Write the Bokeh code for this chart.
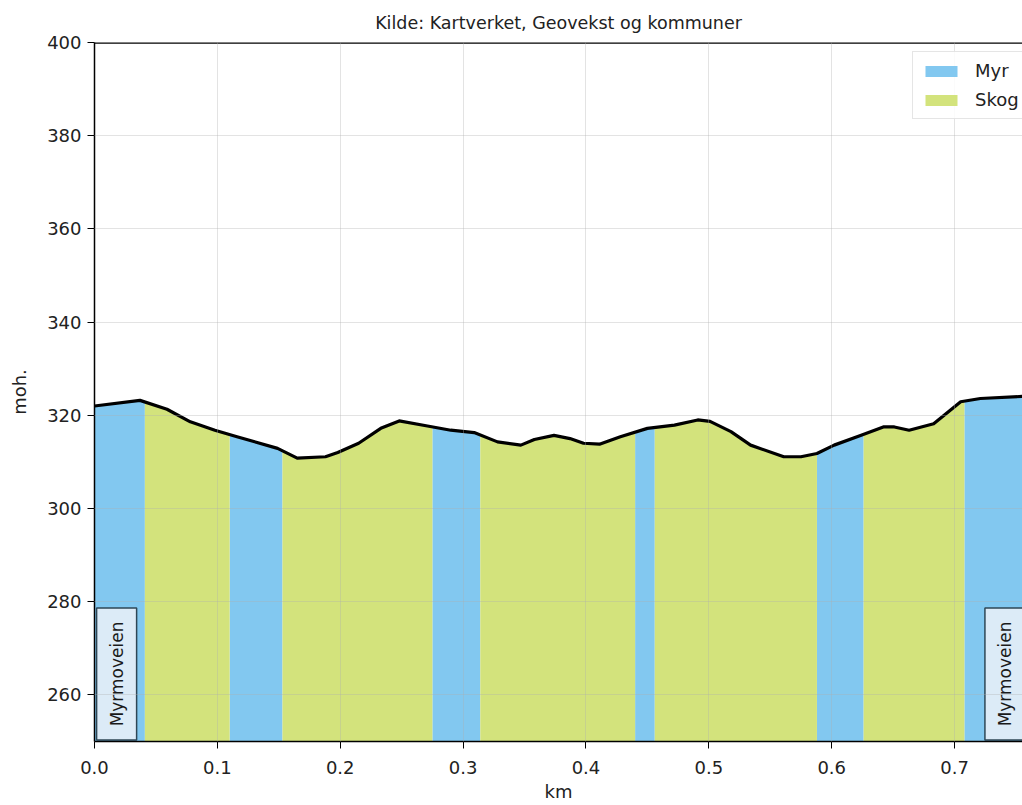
import numpy as np
from bokeh.plotting import figure
from bokeh.models import FixedTicker, PrintfTickFormatter, Range1d, Span, Legend, LegendItem
from bokeh.embed import file_html
from bokeh.resources import INLINE
from bokeh.core.properties import value

# ---- data ----
dist_km = [0.000, 0.037, 0.059, 0.078, 0.098, 0.116, 0.149, 0.165, 0.188, 0.198,
           0.215, 0.233, 0.248, 0.271, 0.290, 0.309, 0.328, 0.347, 0.358, 0.374,
           0.387, 0.398, 0.411, 0.428, 0.450, 0.472, 0.491, 0.501, 0.518, 0.534,
           0.561, 0.575, 0.588, 0.602, 0.624, 0.642, 0.651, 0.663, 0.683, 0.705,
           0.721, 0.759]
elev_m = [322.0, 323.2, 321.3, 318.6, 316.8, 315.4, 312.9, 310.8, 311.1, 312.0,
          314.0, 317.2, 318.8, 317.7, 316.8, 316.3, 314.3, 313.6, 314.8, 315.7,
          315.0, 314.0, 313.8, 315.4, 317.2, 317.9, 319.0, 318.7, 316.5, 313.6,
          311.1, 311.1, 311.8, 313.6, 315.7, 317.5, 317.5, 316.8, 318.2, 322.9,
          323.6, 324.1]

cover_classes = ["Myr", "Skog"]
myr_from_km = [0.000, 0.110, 0.275, 0.440, 0.588, 0.708]
myr_to_km = [0.041, 0.153, 0.314, 0.456, 0.626, 0.759]
skog_from_km = [0.041, 0.153, 0.314, 0.456, 0.626]
skog_to_km = [0.110, 0.275, 0.440, 0.588, 0.708]

place_names = ["Myrmoveien", "Myrmoveien"]
x_ticks = [0.0, 0.1, 0.2, 0.3, 0.4, 0.5, 0.6, 0.7]
y_ticks = [260, 280, 300, 320, 340, 360, 380, 400]

# ---- styles ----
cover_colors = {"Myr": "#82c8f0", "Skog": "#d3e37c"}
FONT = "DejaVu Sans"
Y0, Y1 = 250, 400
X0, X1 = 0.0, 0.7553

p = figure(width=1022, height=805, x_range=Range1d(X0, X1), y_range=Range1d(Y0, Y1),
           output_backend="svg", toolbar_location=None,
           min_border_left=94, min_border_right=0, min_border_top=42, min_border_bottom=64,
           title="Kilde: Kartverket, Geovekst og kommuner")
p.title.align = "center"
p.title.text_font = FONT
p.title.text_font_size = "17.5px"
p.title.text_font_style = "normal"
p.title.text_color = "#222222"
p.title.standoff = 19
p.outline_line_color = None
p.background_fill_color = "white"
p.border_fill_color = "white"


def polygons(starts, ends):
    xs, ys = [], []
    for a, b in zip(starts, ends):
        px = [a] + [d for d in dist_km if a < d < b] + [b]
        py = list(np.interp(px, dist_km, elev_m))
        xs.append(px + px[::-1])
        ys.append(py + [Y0] * len(px))
    return xs, ys


items = []
for name, starts, ends in (("Myr", myr_from_km, myr_to_km), ("Skog", skog_from_km, skog_to_km)):
    xs, ys = polygons(starts, ends)
    r = p.patches(xs, ys, fill_color=cover_colors[name], line_color=None)
    items.append(LegendItem(label=name, renderers=[r]))

p.line(dist_km, elev_m, line_color="black", line_width=3.2, line_join="round", line_cap="round")

# place labels at route start / end
off = 0.018
lx = [dist_km[0] + off, dist_km[-1] - off]
ly = [264.5, 264.5]
p.rect(lx, ly, width=40, height=132, width_units="screen", height_units="screen",
       fill_color="#dcebf7", line_color="#2e4756", line_width=1.5)
p.text(lx, ly, text=place_names, angle=np.pi / 2, text_align="center", text_baseline="middle",
       text_font=value(FONT), text_font_size="17px", text_color="#1a1a1a")

legend = Legend(items=items, location=(818, 622), margin=0)
legend.label_text_font = FONT
legend.label_text_font_size = "18px"
legend.label_text_color = "#222222"
legend.glyph_width = 40
legend.glyph_height = 14
legend.label_standoff = 14
legend.padding = 8
legend.spacing = 8
legend.border_line_color = "#cccccc"
legend.background_fill_alpha = 0.85
p.add_layout(legend)

# axes
for ax in (p.xaxis, p.yaxis):
    ax.major_label_text_font = FONT
    ax.major_label_text_font_size = "18px"
    ax.major_label_text_color = "#222222"
    ax.axis_label_text_font = FONT
    ax.axis_label_text_font_size = "18px"
    ax.axis_label_text_font_style = "normal"
    ax.axis_label_text_color = "#222222"
    ax.axis_line_color = "black"
    ax.axis_line_width = 1.5
    ax.major_tick_line_color = "black"
    ax.major_tick_out = 7
    ax.major_tick_in = 0
    ax.minor_tick_line_color = None

p.xaxis.major_label_standoff = 12
p.yaxis.major_label_standoff = 6
p.xaxis.axis_label = "km"
p.yaxis.axis_label = "moh."
p.xaxis.axis_label_standoff = 4
p.yaxis.axis_label_standoff = 14
p.xaxis.ticker = FixedTicker(ticks=x_ticks)
p.xaxis.formatter = PrintfTickFormatter(format="%.1f")
p.yaxis.ticker = FixedTicker(ticks=y_ticks)

for g in (p.xgrid, p.ygrid):
    g.grid_line_color = "#b0b0b0"
    g.grid_line_alpha = 0.35
    g.level = "overlay"
p.xgrid.ticker = FixedTicker(ticks=x_ticks)
p.ygrid.ticker = FixedTicker(ticks=y_ticks)

p.add_layout(Span(location=Y1, dimension="width", line_color="black", line_width=2.5))

open("out.html", "w").write(file_html(p, INLINE))
